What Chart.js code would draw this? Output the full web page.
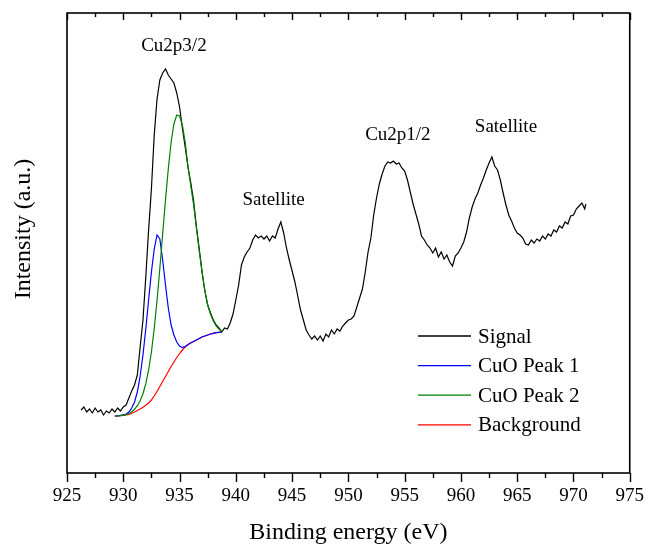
<!DOCTYPE html>
<html>
<head>
<meta charset="utf-8">
<title>Cu 2p XPS</title>
<script src="https://cdn.jsdelivr.net/npm/chart.js@4.4.1/dist/chart.umd.min.js"></script>
<style>
  html, body { margin: 0; padding: 0; background: #fff; }
  #wrap { width: 656px; height: 545px; position: relative; }
</style>
</head>
<body>
<div id="wrap"><canvas id="xpsChart"></canvas></div>
<script>
// Cu 2p spectrum, [binding energy (eV), intensity (a.u.)]
const signal = [
  [926.25,63],[926.5,66],[926.75,61],[927,64],[927.25,60],[927.5,65],[927.75,61],[928,63],
  [928.25,58],[928.5,62],[928.75,60],[929,64],[929.25,61],[929.5,65],[929.75,62],[930,66],
  [930.25,68],[930.5,75],[930.75,82],[931,88],[931.25,98],[931.5,126],[931.75,153],[932,196],
  [932.25,243],[932.5,284],[932.75,338],[933,374],[933.25,393],[933.5,400],[933.75,404],[934,398],
  [934.25,394],[934.5,390],[934.75,380],[935,366],[935.25,345],[935.5,326],[935.75,306],[936,290],
  [936.25,272],[936.5,246],[936.75,224],[937,201],[937.25,182],[937.5,168],[937.75,160],[938,153],
  [938.25,148],[938.5,145],[938.75,141],[939,145],[939.25,144],[939.5,150],[939.75,159],[940,173],
  [940.25,188],[940.5,208],[940.75,216],[941,221],[941.25,225],[941.5,233],[941.75,238],[942,235],
  [942.25,237],[942.5,234],[942.75,237],[943,232],[943.25,237],[943.5,235],[943.75,244],[944,251],
  [944.25,240],[944.5,225],[944.75,213],[945,202],[945.25,191],[945.5,177],[945.75,163],[946,153],
  [946.25,143],[946.5,138],[946.75,134],[947,137],[947.25,133],[947.5,137],[947.75,132],[948,139],
  [948.25,136],[948.5,143],[948.75,139],[949,144],[949.25,142],[949.5,147],[949.75,150],[950,153],
  [950.25,154],[950.5,157],[950.75,166],[951,175],[951.25,184],[951.5,201],[951.75,221],[952,235],
  [952.25,258],[952.5,275],[952.75,289],[953,299],[953.25,307],[953.5,311],[953.75,310],[954,312],
  [954.25,309],[954.5,310],[954.75,305],[955,302],[955.25,293],[955.5,281],[955.75,269],[956,259],
  [956.25,249],[956.5,237],[956.75,233],[957,228],[957.25,225],[957.5,220],[957.75,225],[958,216],
  [958.25,221],[958.5,214],[958.75,218],[959,211],[959.25,207],[959.5,217],[959.75,220],[960,225],
  [960.25,231],[960.5,241],[960.75,255],[961,266],[961.25,274],[961.5,280],[961.75,288],[962,295],
  [962.25,303],[962.5,310],[962.75,316],[963,307],[963.25,303],[963.5,293],[963.75,280],[964,268],
  [964.25,258],[964.5,252],[964.75,245],[965,240],[965.25,238],[965.5,235],[965.75,229],[966,228],
  [966.25,233],[966.5,230],[966.75,234],[967,232],[967.25,237],[967.5,234],[967.75,239],[968,237],
  [968.25,243],[968.5,241],[968.75,247],[969,245],[969.25,251],[969.5,249],[969.75,257],[970,258],
  [970.25,264],[970.5,267],[970.75,270],[971,264],[971.1,269]
];

// fitted components share one energy grid
const fitEnergy = [
  929.25,929.5,929.75,930,930.25,930.5,930.75,931,931.25,931.5,931.75,932,932.25,
  932.5,932.75,933,933.25,933.5,933.75,934,934.25,934.5,934.75,935,935.25,935.5,
  935.75,936,936.25,936.5,936.75,937,937.25,937.5,937.75,938,938.25,938.5,938.75
];
const peak1 = [
  57,57.2,57.6,58.2,59,61,65,71,81,97,118,144,173,
  201,224,238,234,213,188,165,148,138,131,127,125.5,126.5,
  128.5,130.2,131.5,133,134.5,136,137,138,139,139.7,140.3,140.7,141
];
const peak2 = [
  57,57,57.3,57.8,58.4,59.5,61.2,63.7,67.3,72.3,79.3,89.3,102.8,
  121,144.5,172.6,204.8,239,273,304,331,349,358,357,348,331,
  306,287,268,245,222,201,182,168,159,152,147,144,141.5
];
const background = [
  57,57,57.3,57.6,58,58.7,59.7,61,62.5,64,65.7,67.7,70,
  73,77,81.5,86.5,91.5,96.5,101.5,106.5,111,115.5,119.5,123,126,
  128.3,130,131.5,133,134.5,136,137,138,139,139.7,140.3,140.7,141
];

// peak annotations
const labelText = ['Cu2p3/2', 'Satellite', 'Cu2p1/2', 'Satellite'];
const labelEnergy = [934.5, 943.35, 954.4, 964.0];
const labelIntensity = [427, 273, 338, 346];

const serif = "'Liberation Serif', 'Times New Roman', serif";

function toPoints(xs, ys) {
  return xs.map((x, i) => ({ x: x, y: ys[i] }));
}

// frame, ticks, labels, y title and legend drawn on top of the plot
const decorations = {
  id: 'decorations',
  afterDatasetsDraw(chart) {
    const { ctx, chartArea: a, scales: { x, y } } = chart;
    ctx.save();

    // frame
    ctx.strokeStyle = '#000';
    ctx.lineWidth = 1.6;
    ctx.strokeRect(a.left, a.top, a.right - a.left, a.bottom - a.top);

    // ticks: bottom outward, top inward, minor every 2.5 eV
    ctx.lineWidth = 1.4;
    ctx.beginPath();
    for (let v = 925; v <= 975; v += 2.5) {
      const px = Math.round(x.getPixelForValue(v)) + 0.5;
      const major = v % 5 === 0;
      ctx.moveTo(px, a.bottom);
      ctx.lineTo(px, a.bottom + (major ? 9 : 5));
      ctx.moveTo(px, a.top);
      ctx.lineTo(px, a.top + (major ? 7 : 4));
    }
    ctx.stroke();

    // y axis title, sits a little above the plot centre in the original
    ctx.fillStyle = '#000';
    ctx.font = '24px ' + serif;
    ctx.textAlign = 'center';
    ctx.textBaseline = 'middle';
    ctx.save();
    ctx.translate(24, a.top + (a.bottom - a.top) / 2 - 14);
    ctx.rotate(-Math.PI / 2);
    ctx.fillText('Intensity (a.u.)', 0, 0);
    ctx.restore();

    // peak labels
    ctx.font = '19px ' + serif;
    labelText.forEach((t, i) => {
      ctx.fillText(t, x.getPixelForValue(labelEnergy[i]), y.getPixelForValue(labelIntensity[i]));
    });

    // legend inside the plot
    ctx.font = '21px ' + serif;
    ctx.textAlign = 'left';
    const lx = a.left + 351;
    let ly = a.top + 323;
    chart.data.datasets.forEach(ds => {
      ctx.strokeStyle = ds.borderColor;
      ctx.lineWidth = 1.3;
      ctx.beginPath();
      ctx.moveTo(lx, ly);
      ctx.lineTo(lx + 53, ly);
      ctx.stroke();
      ctx.fillText(ds.label, lx + 60, ly + 1);
      ly += 29.6;
    });

    ctx.restore();
  }
};

const xpsChart = new Chart(document.getElementById('xpsChart'), {
  type: 'line',
  data: {
    datasets: [
      {
        label: 'Signal',
        data: signal.map(p => ({ x: p[0], y: p[1] })),
        borderColor: '#000000',
        borderWidth: 1.2,
        order: 4
      },
      {
        label: 'CuO Peak 1',
        data: toPoints(fitEnergy, peak1),
        borderColor: '#0000ff',
        borderWidth: 1.2,
        order: 2
      },
      {
        label: 'CuO Peak 2',
        data: toPoints(fitEnergy, peak2),
        borderColor: '#008000',
        borderWidth: 1.2,
        order: 1
      },
      {
        label: 'Background',
        data: toPoints(fitEnergy, background),
        borderColor: '#ff0000',
        borderWidth: 1.2,
        order: 3
      }
    ]
  },
  options: {
    responsive: true,
    maintainAspectRatio: false,
    animation: false,
    parsing: false,
    layout: { padding: { top: 13, right: 16, left: 0, bottom: 0 } },
    elements: {
      point: { radius: 0 },
      line: { tension: 0, fill: false }
    },
    plugins: {
      legend: { display: false },
      tooltip: { enabled: false }
    },
    scales: {
      x: {
        type: 'linear',
        min: 925,
        max: 975,
        grid: { display: false, drawTicks: false },
        border: { display: false },
        ticks: {
          stepSize: 5,
          padding: 12,
          color: '#000',
          font: { family: serif, size: 19 },
          maxRotation: 0
        },
        title: {
          display: true,
          text: 'Binding energy (eV)',
          color: '#000',
          font: { family: serif, size: 24, lineHeight: 1 },
          padding: { top: 0, bottom: 0 }
        },
        afterFit: s => { s.height = 72; }
      },
      y: {
        min: 0,
        max: 460,
        grid: { display: false, drawTicks: false },
        border: { display: false },
        ticks: { display: false },
        title: { display: false },
        afterFit: s => { s.width = 67; }
      }
    }
  },
  plugins: [decorations]
});
</script>
</body>
</html>
